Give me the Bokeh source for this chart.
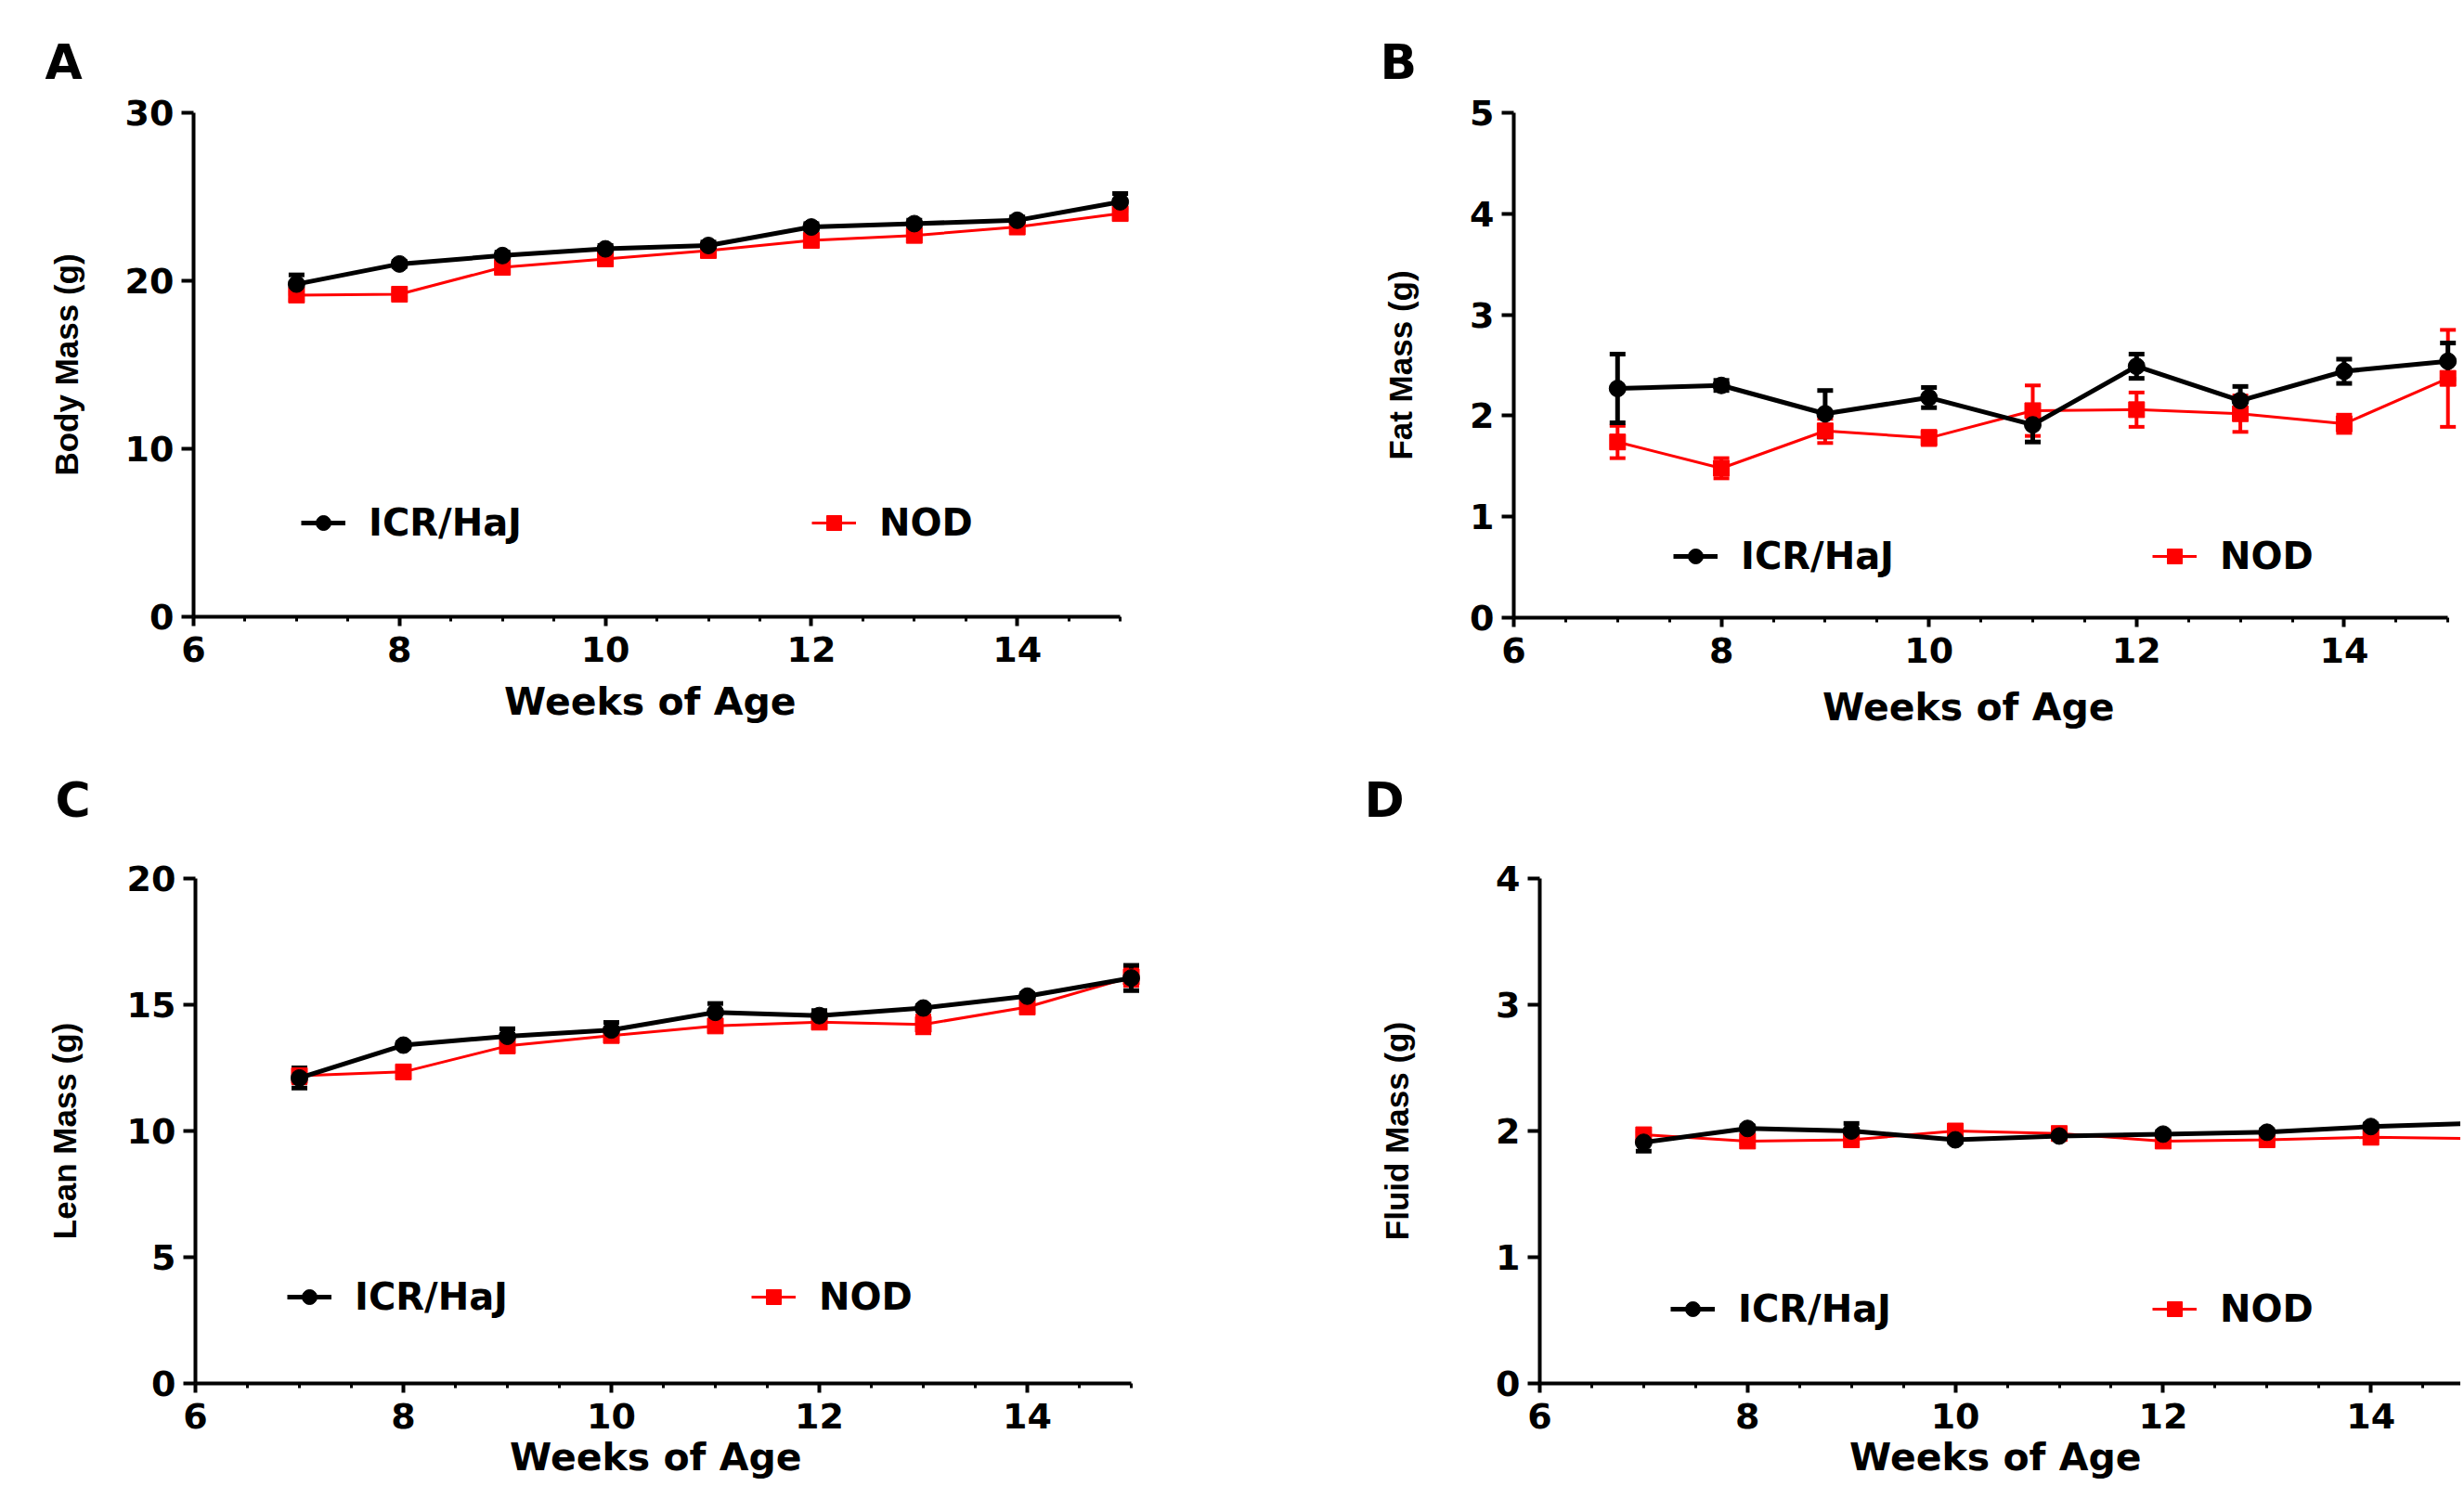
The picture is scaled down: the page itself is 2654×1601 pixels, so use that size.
from bokeh.plotting import figure
from bokeh.models import (ColumnDataSource, Whisker, TeeHead, FixedTicker, Range1d,
                          Legend, LegendItem, Label)
from bokeh.layouts import column, row
from bokeh.embed import file_html
from bokeh.resources import INLINE

# ---------------- data ----------------
weeks = [7, 8, 9, 10, 11, 12, 13, 14, 15]

body_icr = [19.8, 21.0, 21.5, 21.9, 22.1, 23.2, 23.4, 23.6, 24.7]
body_icr_sem = [0.55, 0.15, 0.2, 0.2, 0.2, 0.2, 0.2, 0.2, 0.5]
body_nod = [19.15, 19.2, 20.8, 21.3, 21.8, 22.4, 22.7, 23.2, 24.0]
body_nod_sem = [0.3, 0.2, 0.25, 0.2, 0.2, 0.2, 0.2, 0.2, 0.3]

fat_icr = [2.27, 2.30, 2.02, 2.18, 1.91, 2.49, 2.15, 2.44, 2.54]
fat_icr_sem = [0.34, 0.05, 0.23, 0.10, 0.17, 0.12, 0.14, 0.12, 0.18]
fat_nod = [1.74, 1.48, 1.85, 1.78, 2.05, 2.06, 2.02, 1.92, 2.37]
fat_nod_sem = [0.16, 0.10, 0.12, 0.07, 0.25, 0.17, 0.18, 0.09, 0.48]

lean_icr = [12.1, 13.4, 13.75, 14.0, 14.7, 14.57, 14.87, 15.34, 16.06]
lean_icr_sem = [0.4, 0.1, 0.3, 0.3, 0.35, 0.2, 0.1, 0.1, 0.5]
lean_nod = [12.19, 12.34, 13.37, 13.78, 14.16, 14.31, 14.22, 14.91, 16.1]
lean_nod_sem = [0.3, 0.1, 0.2, 0.15, 0.2, 0.15, 0.35, 0.15, 0.35]

fluid_icr = [1.91, 2.02, 2.00, 1.93, 1.96, 1.975, 1.99, 2.035, 2.06]
fluid_icr_sem = [0.07, 0.02, 0.06, 0.02, 0.02, 0.02, 0.02, 0.02, 0.03]
fluid_nod = [1.97, 1.92, 1.93, 2.00, 1.98, 1.92, 1.93, 1.95, 1.94]
fluid_nod_sem = [0.03, 0.02, 0.02, 0.03, 0.03, 0.02, 0.02, 0.02, 0.02]

x_major_ticks = [6, 8, 10, 12, 14]
x_minor_ticks = [6.5, 7, 7.5, 8.5, 9, 9.5, 10.5, 11, 11.5, 12.5, 13, 13.5, 14.5, 15]
body_ticks = [0, 10, 20, 30]
fat_ticks = [0, 1, 2, 3, 4, 5]
lean_ticks = [0, 5, 10, 15, 20]
fluid_ticks = [0, 1, 2, 3, 4]

series_names = ["ICR/HaJ", "NOD"]
x_title = "Weeks of  Age"

BLACK = "#000000"
RED = "#FF0000"
FONT = "DejaVu Sans"
YFONT = "Liberation Sans"
LABEL_DY = 17  # observed downward shift of Label text relative to requested baseline


def build(letter, ylabel, yticks, ymax, icr, icr_e, nod, nod_e, g):
    # layout geometry (page pixels): canvas origin/size, where x=6 / y=0 fall,
    # pixels per data unit
    ox, oy, w, h = g["canvas"]
    fx, fb, ppux, ppuy = g["fx"], g["fb"], g["ppux"], g["ppuy"]
    x0 = 6 - (fx - ox) / ppux
    x1 = 6 + (ox + w - fx) / ppux
    y0 = -(oy + h - fb) / ppuy
    y1 = (fb - oy) / ppuy

    p = figure(width=w, height=h, x_range=Range1d(x0, x1), y_range=Range1d(y0, y1),
               output_backend="svg", toolbar_location=None, title=None,
               min_border_left=0, min_border_right=0,
               min_border_top=0, min_border_bottom=0)
    p.outline_line_color = None
    p.xgrid.visible = False
    p.ygrid.visible = False
    p.background_fill_color = "white"
    p.border_fill_color = "white"

    xa = p.xaxis[0]
    xa.fixed_location = 0
    xa.ticker = FixedTicker(ticks=x_major_ticks, minor_ticks=x_minor_ticks)
    xa.bounds = (6, 15)
    xa.axis_line_width = 4
    xa.major_tick_line_width = 4
    xa.major_tick_out = 10
    xa.major_tick_in = 0
    xa.minor_tick_line_width = 3
    xa.minor_tick_out = 5
    xa.minor_tick_in = 0
    xa.major_label_text_font = FONT
    xa.major_label_text_font_style = "bold"
    xa.major_label_text_font_size = "38px"
    xa.major_label_text_color = BLACK
    xa.major_label_standoff = 11

    ya = p.yaxis[0]
    ya.fixed_location = 6
    ya.ticker = FixedTicker(ticks=yticks, minor_ticks=[])
    ya.bounds = (0, ymax)
    ya.axis_line_width = 4
    ya.major_tick_line_width = 4
    ya.major_tick_out = 13
    ya.major_tick_in = 0
    ya.minor_tick_out = 0
    ya.minor_tick_in = 0
    ya.major_label_text_font = FONT
    ya.major_label_text_font_style = "bold"
    ya.major_label_text_font_size = "38px"
    ya.major_label_text_color = BLACK
    ya.major_label_standoff = 8
    ya.axis_label = ylabel
    ya.axis_label_text_font = YFONT
    ya.axis_label_text_font_style = "bold"
    ya.axis_label_text_font_size = "35px"
    ya.axis_label_text_color = BLACK
    ya.axis_label_standoff = g["ylab_standoff"]

    src_n = ColumnDataSource(dict(x=weeks, y=nod,
                                  lo=[v - e for v, e in zip(nod, nod_e)],
                                  hi=[v + e for v, e in zip(nod, nod_e)]))
    src_i = ColumnDataSource(dict(x=weeks, y=icr,
                                  lo=[v - e for v, e in zip(icr, icr_e)],
                                  hi=[v + e for v, e in zip(icr, icr_e)]))

    p.add_layout(Whisker(base="x", upper="hi", lower="lo", source=src_n,
                         line_color=RED, line_width=4,
                         upper_head=TeeHead(size=17, line_color=RED, line_width=4),
                         lower_head=TeeHead(size=17, line_color=RED, line_width=4)))
    p.add_layout(Whisker(base="x", upper="hi", lower="lo", source=src_i,
                         line_color=BLACK, line_width=5,
                         upper_head=TeeHead(size=17, line_color=BLACK, line_width=5),
                         lower_head=TeeHead(size=17, line_color=BLACK, line_width=5)))

    rn_l = p.line("x", "y", source=src_n, line_color=RED, line_width=3)
    rn_s = p.scatter("x", "y", source=src_n, marker="square", size=17,
                     fill_color=RED, line_color=RED)
    ri_l = p.line("x", "y", source=src_i, line_color=BLACK, line_width=5)
    ri_s = p.scatter("x", "y", source=src_i, marker="circle", size=18,
                     fill_color=BLACK, line_color=BLACK)

    glyph_left, center_y, lsp = g["legend"]
    legend = Legend(items=[LegendItem(label=series_names[0], renderers=[ri_l, ri_s]),
                           LegendItem(label=series_names[1], renderers=[rn_l, rn_s])],
                    orientation="horizontal",
                    location=(glyph_left - ox, (oy + h - center_y) - 23),
                    padding=0, margin=0, spacing=lsp,
                    glyph_width=48, glyph_height=40,
                    label_width=380, label_height=40, label_standoff=25,
                    border_line_color=None, background_fill_alpha=0,
                    label_text_font=FONT, label_text_font_style="bold",
                    label_text_font_size="40px", label_text_color=BLACK,
                    label_text_baseline="middle")
    p.add_layout(legend, "center")

    # panel letter
    lx, lb = g["letter_px"]
    p.add_layout(Label(x=6 + (lx - fx) / ppux, y=(fb - (lb - LABEL_DY)) / ppuy,
                       text=letter, text_font=FONT, text_font_style="bold",
                       text_font_size="52px", text_color=BLACK,
                       text_align="left", text_baseline="alphabetic"))
    # x-axis title
    tcx, tb = g["xtitle_px"]
    p.add_layout(Label(x=6 + (tcx - fx) / ppux, y=(fb - (tb - LABEL_DY)) / ppuy,
                       text=x_title, text_font=FONT, text_font_style="bold",
                       text_font_size="41px", text_color=BLACK,
                       text_align="center", text_baseline="alphabetic"))
    return p


geoA = dict(canvas=(0, 0, 1328, 815), fx=208, fb=664, ppux=110.9, ppuy=543 / 30,
            ylab_standoff=41, legend=(324, 563, 97), letter_px=(48, 83),
            xtitle_px=(707, 772))
geoB = dict(canvas=(1328, 0, 1322, 815), fx=1630, fb=665, ppux=111.8, ppuy=544 / 5,
            ylab_standoff=52, legend=(1802, 599, 63), letter_px=(1486, 83),
            xtitle_px=(2127, 778))
geoC = dict(canvas=(0, 815, 1328, 785), fx=210, fb=1490, ppux=112.0, ppuy=544 / 20,
            ylab_standoff=45, legend=(309, 1397, 47), letter_px=(59, 878),
            xtitle_px=(713, 1586))
geoD = dict(canvas=(1328, 815, 1322, 785), fx=1658, fb=1490, ppux=111.9, ppuy=544 / 4,
            ylab_standoff=84, legend=(1799, 1410, 66), letter_px=(1469, 878),
            xtitle_px=(2156, 1586))

pA = build("A", "Body Mass (g)", body_ticks, 30, body_icr, body_icr_sem, body_nod, body_nod_sem, geoA)
pB = build("B", "Fat Mass (g)", fat_ticks, 5, fat_icr, fat_icr_sem, fat_nod, fat_nod_sem, geoB)
pC = build("C", "Lean Mass (g)", lean_ticks, 20, lean_icr, lean_icr_sem, lean_nod, lean_nod_sem, geoC)
pD = build("D", "Fluid Mass (g)", fluid_ticks, 4, fluid_icr, fluid_icr_sem, fluid_nod, fluid_nod_sem, geoD)

layout = column(row(pA, pB, spacing=0), row(pC, pD, spacing=0), spacing=0)

open("out.html", "w").write(file_html(layout, INLINE, "Body composition"))
